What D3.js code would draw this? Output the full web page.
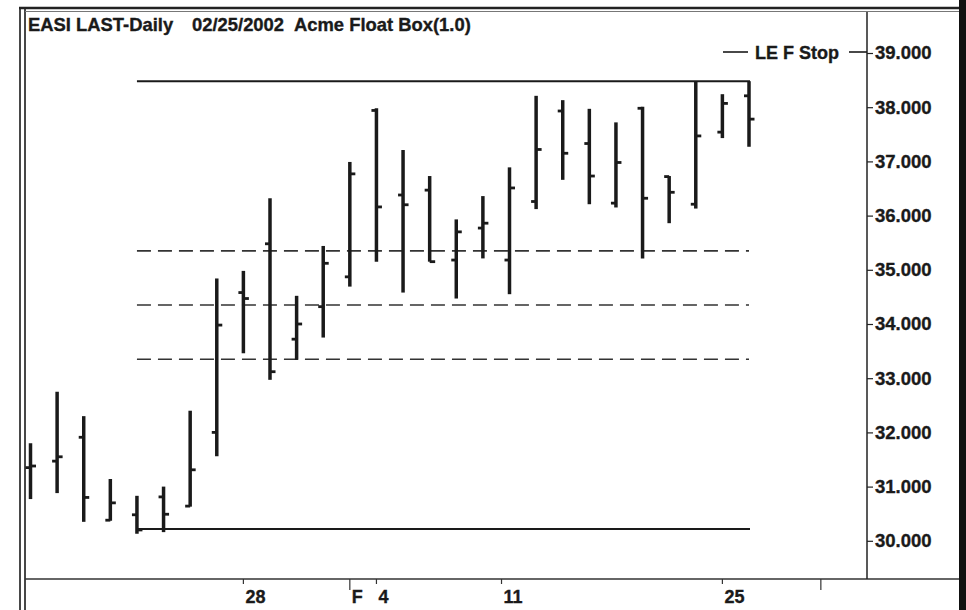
<!DOCTYPE html>
<html><head><meta charset="utf-8">
<script src="https://cdn.jsdelivr.net/npm/d3@7"></script>
<style>
body{margin:0;background:#fff}
svg{display:block}
text{font-family:"Liberation Sans",Arial,sans-serif;font-weight:bold;fill:#1a1a1a;stroke:#1a1a1a;stroke-width:0.35px}
</style>
</head><body><svg id="c" width="966" height="610"></svg>
<script>
// ---- data ----
const dates=["01/15","01/16","01/17","01/18","01/22","01/23","01/24","01/25","01/28","01/29","01/30","01/31","02/01","02/04","02/05","02/06","02/07","02/08","02/11","02/12","02/13","02/14","02/15","02/19","02/20","02/21","02/22","02/25"];
const openV =[31.35,31.47,31.91,30.38,30.48,30.81,30.64,32.00,34.58,35.48,33.72,34.32,34.87,37.94,36.38,36.47,35.18,35.77,35.18,36.26,37.93,37.33,36.23,37.98,36.72,36.21,37.54,38.21];
const highV =[31.80,32.75,32.30,31.14,30.83,31.00,32.40,34.84,34.98,36.32,34.52,35.44,36.99,37.98,37.21,36.73,35.93,36.36,36.89,38.21,38.13,37.97,37.72,38.01,36.73,38.47,38.24,38.48];
const lowV  =[30.77,30.88,30.35,30.37,30.13,30.16,30.63,31.56,33.46,32.97,33.34,33.75,34.69,35.15,34.58,35.15,34.47,35.21,34.55,36.12,36.66,36.21,36.15,35.21,35.86,36.13,37.43,37.27];
const closeV=[31.38,31.55,30.80,30.70,30.20,30.49,31.31,33.98,34.47,33.12,34.00,35.12,36.77,36.16,36.20,35.15,35.70,35.86,36.51,37.22,37.15,36.73,36.98,36.32,36.43,37.47,38.07,37.78];
const yTicks=[30,31,32,33,34,35,36,37,38,39];
const xTickPos=[8,12,13,17.7,26,29.7];
const xTickLabels=["28","F","4","11","25",""];
const xTickMajor=[false,true,false,false,false,true];
const stopHigh=38.48, stopLow=30.22;
const boxLevels=[35.35,34.35,33.35];
const stopFrom=4, stopTo=27;
const titleParts=["EASI LAST-Daily","02/25/2002","Acme Float Box(1.0)"];
const legendLabel="LE F Stop";

// ---- layout ----
const svg=d3.select("#c");
const x=d3.scaleLinear().domain([0,27]).range([30.5,749]);
const y=d3.scaleLinear().domain([30,39]).range([540.8,53]);
const axisX=867, axisY=579;
const ink="#1a1a1a";

// frame
svg.append("rect").attr("x",0).attr("y",0).attr("width",966).attr("height",610).attr("fill","#fff");
svg.append("line").attr("x1",20).attr("x2",20).attr("y1",7).attr("y2",610).attr("stroke","#333").attr("stroke-width",1.8);
svg.append("line").attr("x1",25).attr("x2",25).attr("y1",7).attr("y2",610).attr("stroke","#333").attr("stroke-width",1.8);
svg.append("line").attr("x1",19).attr("x2",962).attr("y1",8).attr("y2",8).attr("stroke","#222").attr("stroke-width",2.5);
svg.append("line").attr("x1",25).attr("x2",960).attr("y1",11.5).attr("y2",11.5).attr("stroke","#777").attr("stroke-width",1);
svg.append("rect").attr("x",959).attr("y",0).attr("width",7).attr("height",610).attr("fill","#111");

// axes lines
svg.append("line").attr("x1",25).attr("x2",959).attr("y1",axisY).attr("y2",axisY).attr("stroke","#333").attr("stroke-width",1.5);
svg.append("line").attr("x1",axisX).attr("x2",axisX).attr("y1",12).attr("y2",axisY).attr("stroke","#222").attr("stroke-width",1.5);

// right y axis
const yAxis=d3.axisRight(y).tickValues(yTicks).tickSize(6).tickPadding(2).tickFormat(d3.format(".3f"));
const ga=svg.append("g").attr("transform",`translate(${axisX},0)`).call(yAxis);
ga.select(".domain").remove();
ga.selectAll(".tick line").attr("stroke","#222").attr("stroke-width",1.2);
ga.selectAll(".tick text").attr("font-size",18.5).attr("font-family","Liberation Sans, Arial, sans-serif").attr("font-weight","bold").attr("fill",ink);

// bottom x ticks
const gx=svg.append("g");
xTickPos.forEach((p,i)=>{
  const xx=x(p);
  gx.append("line").attr("x1",xx).attr("x2",xx).attr("y1",axisY).attr("y2",axisY+(xTickMajor[i]?11:5)).attr("stroke","#333").attr("stroke-width",1.2);
  if(xTickLabels[i]) gx.append("text").attr("x",xx+2).attr("y",603).attr("font-size",18).text(xTickLabels[i]);
});

// title
const tx=[28,192,294];
titleParts.forEach((t,i)=>svg.append("text").attr("x",tx[i]).attr("y",31).attr("font-size",18.4).text(t));

// box levels (dashed)
boxLevels.forEach(v=>{
  svg.append("line").attr("x1",x(stopFrom)).attr("x2",x(stopTo)).attr("y1",y(v)).attr("y2",y(v))
    .attr("stroke","#333").attr("stroke-width",1.6).attr("stroke-dasharray","14,7");
});
// stop lines
[stopHigh,stopLow].forEach(v=>{
  svg.append("line").attr("x1",x(stopFrom)).attr("x2",x(stopTo)+1).attr("y1",y(v)).attr("y2",y(v))
    .attr("stroke",ink).attr("stroke-width",2);
});

// OHLC bars
const g=svg.append("g").attr("stroke",ink).attr("stroke-linecap","butt");
dates.forEach((d,i)=>{
  const xx=x(i);
  g.append("line").attr("x1",xx).attr("x2",xx).attr("y1",y(highV[i])).attr("y2",y(lowV[i])).attr("stroke-width",3.5);
  g.append("line").attr("x1",xx-5).attr("x2",xx).attr("y1",y(openV[i])).attr("y2",y(openV[i])).attr("stroke-width",2.8);
  g.append("line").attr("x1",xx).attr("x2",xx+5.5).attr("y1",y(closeV[i])).attr("y2",y(closeV[i])).attr("stroke-width",2.8);
});

// legend
const ly=52;
svg.append("line").attr("x1",723).attr("x2",748).attr("y1",ly).attr("y2",ly).attr("stroke",ink).attr("stroke-width",1.6);
svg.append("text").attr("x",755).attr("y",ly+6.5).attr("font-size",18).text(legendLabel);
svg.append("line").attr("x1",849).attr("x2",axisX).attr("y1",ly).attr("y2",ly).attr("stroke",ink).attr("stroke-width",1.6);
</script></body></html>
